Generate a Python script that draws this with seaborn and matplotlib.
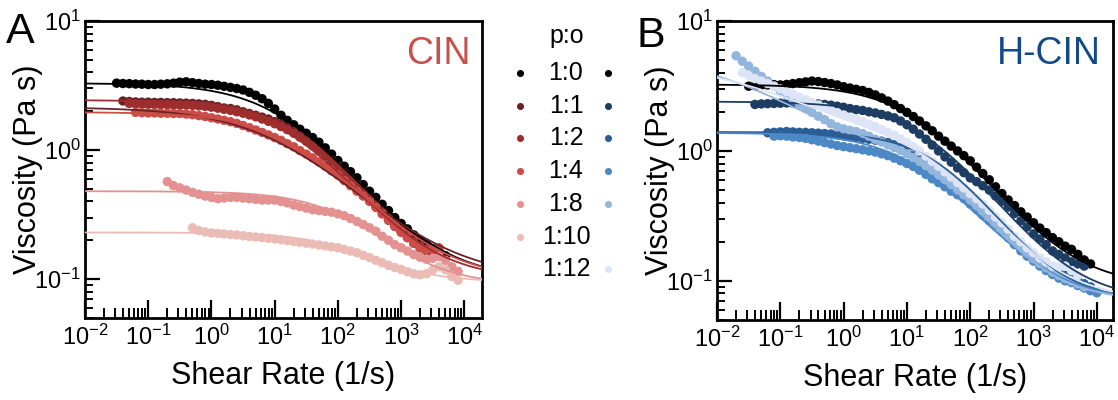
import numpy as np
import pandas as pd
import matplotlib
matplotlib.use("Agg")
import matplotlib.pyplot as plt
import seaborn as sns
from matplotlib.ticker import LogLocator, FuncFormatter, NullFormatter

# shear rate sweep, 10 points per decade
shear_rate = [0.01, 0.0126, 0.0158, 0.02, 0.0251, 0.0316, 0.0398, 0.0501, 0.0631, 0.0794,
              0.1, 0.126, 0.158, 0.2, 0.251, 0.316, 0.398, 0.501, 0.631, 0.794,
              1, 1.26, 1.58, 2, 2.51, 3.16, 3.98, 5.01, 6.31, 7.94,
              10, 12.6, 15.8, 20, 25.1, 31.6, 39.8, 50.1, 63.1, 79.4,
              100, 126, 158, 200, 251, 316, 398, 501, 631, 794,
              1000, 1259, 1585, 1995, 2512, 3162, 3981, 5012, 6310, 7943, 10000]

legend_ratios = ['1:0', '1:1', '1:2', '1:4', '1:8', '1:10', '1:12']
legend_red = ['#000000', '#6b2226', '#9e2d2d', '#cc4d47', '#e39191', '#ebbcb5', None]
legend_blue = ['#000000', '#1d3d63', '#2b5e97', '#4c88c6', '#93b6dc', None, '#dce4f5']

# ---- CIN (panel A) viscosity, Pa s ----
cin_ratios = ['1:0', '1:1', '1:2', '1:4', '1:8', '1:10']
cin_colors = ['#000000', '#6b2226', '#9e2d2d', '#cc4d47', '#e39191', '#ebbcb5']
cin_start = [5, 6, 7, 8, 13, 17]   # index of first shear rate
cin_1_0 = [3.30, 3.28, 3.27, 3.25, 3.24,
           3.22, 3.22, 3.24, 3.26, 3.30, 3.36, 3.38, 3.33, 3.28, 3.24,
           3.22, 3.18, 3.12, 3.06, 3.00, 2.92, 2.80, 2.66, 2.50, 2.30,
           2.08, 1.86, 1.70, 1.57, 1.45, 1.35, 1.25, 1.15, 1.04, 0.93,
           0.83, 0.75, 0.68, 0.61, 0.54, 0.48, 0.43, 0.38, 0.34, 0.30,
           0.27, 0.245, 0.22, 0.20, 0.185, 0.172, 0.16, 0.152]
cin_1_1 = [2.40, 2.38, 2.36, 2.35,
           2.35, 2.34, 2.34, 2.33, 2.33, 2.32, 2.31, 2.30, 2.28, 2.26,
           2.22, 2.17, 2.12, 2.10, 2.05, 1.98, 1.92, 1.86, 1.80, 1.74,
           1.66, 1.58, 1.49, 1.40, 1.30, 1.20, 1.10, 1.00, 0.91, 0.83,
           0.75, 0.67, 0.60, 0.54, 0.48, 0.43, 0.38, 0.34, 0.30, 0.265,
           0.235, 0.21, 0.19, 0.175, 0.165, 0.16]
cin_1_2 = [2.30, 2.28, 2.27,
           2.26, 2.26, 2.25, 2.25, 2.24, 2.24, 2.23, 2.22, 2.20, 2.18,
           2.15, 2.11, 2.07, 2.03, 1.98, 1.93, 1.87, 1.81, 1.74, 1.67,
           1.60, 1.52, 1.44, 1.35, 1.26, 1.17, 1.08, 0.99, 0.90, 0.82,
           0.74, 0.66, 0.59, 0.53, 0.47, 0.42, 0.37, 0.33, 0.29, 0.26,
           0.235, 0.215, 0.195, 0.18, 0.17, 0.165, 0.16]
cin_1_4 = [1.96, 1.95,
           1.94, 1.94, 1.93, 1.93, 1.92, 1.92, 1.90, 1.88, 1.85, 1.82,
           1.78, 1.74, 1.70, 1.66, 1.61, 1.55, 1.49, 1.43, 1.37, 1.31,
           1.25, 1.19, 1.12, 1.06, 0.99, 0.93, 0.87, 0.81, 0.75, 0.69,
           0.64, 0.58, 0.53, 0.48, 0.44, 0.40, 0.36, 0.32, 0.285, 0.255,
           0.23, 0.21, 0.19, 0.175, 0.168, 0.17, 0.175]
cin_1_8 = [0.57, 0.53, 0.51, 0.49, 0.47, 0.455, 0.44,
           0.43, 0.42, 0.425, 0.43, 0.43, 0.425, 0.42, 0.415, 0.41, 0.41,
           0.41, 0.40, 0.39, 0.375, 0.365, 0.355, 0.345, 0.34, 0.335, 0.33,
           0.32, 0.31, 0.295, 0.28, 0.265, 0.25, 0.235, 0.215, 0.20, 0.185,
           0.175, 0.165, 0.155, 0.148, 0.143, 0.145, 0.15, 0.14, 0.125, 0.115]
cin_1_10 = [0.25, 0.238, 0.232,
            0.228, 0.226, 0.224, 0.222, 0.22, 0.217, 0.214, 0.212, 0.21, 0.207,
            0.205, 0.202, 0.199, 0.196, 0.193, 0.19, 0.187, 0.184, 0.181, 0.178,
            0.175, 0.17, 0.165, 0.16, 0.153, 0.147, 0.14, 0.134, 0.128, 0.123,
            0.119, 0.114, 0.11, 0.108, 0.11, 0.118, 0.125, 0.118, 0.105, 0.098]
cin_data = [cin_1_0, cin_1_1, cin_1_2, cin_1_4, cin_1_8, cin_1_10]
# cross model fit: eta_inf, a1, lam1, m1, a2, lam2, m2
cin_fit = [(0.10, 3.20, 0.064, 0.68, 0, 1, 1),
           (0.10, 2.05, 0.080, 0.55, 0, 1, 1),
           (0.10, 2.34, 0.050, 0.70, 0, 1, 1),
           (0.10, 1.87, 0.040, 0.65, 0, 1, 1),
           (0.09, 0.39, 0.0062, 0.75, 0, 1, 1),
           (0.095, 0.135, 0.0057, 0.77, 0, 1, 1)]

# ---- H-CIN (panel B) ----
hcin_ratios = ['1:0', '1:1', '1:2', '1:4', '1:8', '1:12']
hcin_colors = ['#000000', '#1d3d63', '#2b5e97', '#4c88c6', '#93b6dc', '#dce4f5']
hcin_start = [5, 6, 8, 9, 3, 4]
hcin_1_0 = [3.15, 3.18, 3.20, 3.22, 3.24,
            3.22, 3.25, 3.30, 3.35, 3.40, 3.45, 3.42, 3.36, 3.30, 3.22,
            3.12, 3.05, 2.98, 2.92, 2.82, 2.70, 2.56, 2.42, 2.27, 2.12,
            1.98, 1.84, 1.70, 1.56, 1.43, 1.30, 1.19, 1.09, 1.00, 0.92,
            0.84, 0.75, 0.67, 0.60, 0.53, 0.47, 0.42, 0.38, 0.34, 0.31,
            0.28, 0.255, 0.235, 0.215, 0.20, 0.185, 0.175, 0.16, 0.145, 0.135]
hcin_1_1 = [2.28, 2.30, 2.31, 2.32,
            2.33, 2.34, 2.34, 2.33, 2.32, 2.31, 2.30, 2.28, 2.25, 2.21,
            2.17, 2.12, 2.08, 2.05, 2.00, 1.96, 1.91, 1.86, 1.80, 1.70,
            1.59, 1.47, 1.35, 1.23, 1.11, 1.00, 0.90, 0.82, 0.74, 0.68,
            0.62, 0.58, 0.54, 0.50, 0.45, 0.41, 0.37, 0.33, 0.29, 0.26,
            0.23, 0.21, 0.19, 0.17, 0.16, 0.15, 0.14, 0.135, 0.13]
hcin_1_2 = [1.38, 1.39,
            1.40, 1.41, 1.40, 1.39, 1.39, 1.38, 1.37, 1.36, 1.35, 1.33,
            1.31, 1.29, 1.27, 1.25, 1.23, 1.21, 1.19, 1.16, 1.12, 1.08,
            1.03, 0.98, 0.92, 0.86, 0.80, 0.73, 0.67, 0.61, 0.56, 0.51,
            0.46, 0.42, 0.38, 0.34, 0.30, 0.27, 0.24, 0.21, 0.19, 0.17,
            0.155, 0.14, 0.13, 0.12, 0.115, 0.11, 0.105, 0.10, 0.095, 0.09]
hcin_1_4 = [1.30,
            1.31, 1.30, 1.28, 1.27, 1.25, 1.22, 1.19, 1.16, 1.13, 1.10,
            1.08, 1.06, 1.04, 1.02, 1.00, 0.98, 0.95, 0.92, 0.88, 0.84,
            0.80, 0.76, 0.71, 0.66, 0.61, 0.57, 0.53, 0.49, 0.46, 0.43,
            0.39, 0.355, 0.32, 0.29, 0.265, 0.24, 0.215, 0.19, 0.17, 0.155,
            0.142, 0.13, 0.12, 0.112, 0.105, 0.10, 0.097, 0.092, 0.088, 0.084, 0.081]
hcin_1_8 = [5.4, 4.9, 4.5, 4.1, 3.75, 3.45, 3.15,
            2.9, 2.68, 2.48, 2.28, 2.12, 1.98, 1.85, 1.74, 1.62, 1.53,
            1.48, 1.44, 1.41, 1.36, 1.30, 1.23, 1.17, 1.11, 1.06, 1.01,
            0.95, 0.89, 0.83, 0.77, 0.71, 0.65, 0.60, 0.55, 0.50, 0.46,
            0.42, 0.38, 0.345, 0.31, 0.28, 0.25, 0.225, 0.20, 0.18, 0.163,
            0.148, 0.136, 0.126, 0.117, 0.11, 0.104, 0.10, 0.095, 0.09]
hcin_1_12 = [4.0, 3.8, 3.6, 3.45, 3.3, 3.15,
             3.0, 2.85, 2.72, 2.6, 2.48, 2.36, 2.26, 2.16, 2.06, 1.97,
             1.89, 1.82, 1.75, 1.68, 1.61, 1.54, 1.46, 1.39, 1.32, 1.24,
             1.16, 1.08, 1.0, 0.91, 0.83, 0.76, 0.69, 0.63, 0.57, 0.52,
             0.47, 0.43, 0.39, 0.35, 0.31, 0.28, 0.25, 0.22, 0.20, 0.18,
             0.165, 0.15, 0.14, 0.13, 0.128, 0.13, 0.12, 0.11]
hcin_data = [hcin_1_0, hcin_1_1, hcin_1_2, hcin_1_4, hcin_1_8, hcin_1_12]
hcin_fit = [(0.09, 3.16, 0.060, 0.70, 0, 1, 1),
            (0.07, 2.33, 0.045, 0.72, 0, 1, 1),
            (0.07, 1.33, 0.025, 0.80, 0, 1, 1),
            (0.07, 1.31, 0.060, 0.70, 0, 1, 1),
            (0.07, 4.00, 30.0, 0.60, 1.0, 0.03, 0.8),
            (0.07, 3.60, 20.0, 0.50, 1.1, 0.03, 0.8)]


def cross(x, p):
    eta_inf, a1, lam1, m1, a2, lam2, m2 = p
    return eta_inf + a1 / (1 + (lam1 * x) ** m1) + a2 / (1 + (lam2 * x) ** m2)


def to_frame(ratios, starts, data):
    rows = []
    for r, s, y in zip(ratios, starts, data):
        for x, v in zip(shear_rate[s:s + len(y)], y):
            rows.append((r, x, v))
    return pd.DataFrame(rows, columns=['ratio', 'rate', 'visc'])


sns.set_style('white')
plt.rcParams['font.family'] = ['Liberation Sans', 'DejaVu Sans']
plt.rcParams['mathtext.default'] = 'regular'
for k in ['text.color', 'axes.labelcolor', 'xtick.color', 'ytick.color', 'axes.edgecolor']:
    plt.rcParams[k] = 'black'

fig = plt.figure(figsize=(11.18, 4.0), dpi=100)
W, H = 1118, 400


def px_axes(l, t, r, b):
    return fig.add_axes([l / W, 1 - b / H, (r - l) / W, (b - t) / H])


def sci(v, pos):
    return r'$\mathregular{10^{%d}}$' % int(round(np.log10(v)))


def panel(ax, ratios, starts, data, fits, colors, xmax, name, ncolor):
    df = to_frame(ratios, starts, data)
    pal = dict(zip(ratios, colors))
    ax.set_xscale('log')
    ax.set_yscale('log')
    sns.scatterplot(data=df, x='rate', y='visc', hue='ratio', hue_order=ratios,
                    palette=pal, s=46, linewidth=0, alpha=1, legend=False, ax=ax, zorder=2)
    xf = np.logspace(-2, np.log10(xmax), 300)
    for r, p in zip(ratios, fits):
        ax.plot(xf, cross(xf, p), color=pal[r], lw=1.3, zorder=3)
    ax.set_xlim(0.01, xmax)
    ax.set_ylim(0.05, 10)
    ax.xaxis.set_major_locator(LogLocator(base=10, numticks=20))
    ax.xaxis.set_minor_locator(LogLocator(base=10, subs=np.arange(2, 10), numticks=100))
    ax.yaxis.set_major_locator(LogLocator(base=10, numticks=20))
    ax.yaxis.set_minor_locator(LogLocator(base=10, subs=np.arange(2, 10), numticks=100))
    ax.xaxis.set_major_formatter(FuncFormatter(sci))
    ax.yaxis.set_major_formatter(FuncFormatter(sci))
    ax.xaxis.set_minor_formatter(NullFormatter())
    ax.yaxis.set_minor_formatter(NullFormatter())
    ax.tick_params(axis='x', which='major', direction='in', length=13, width=1.6,
                   labelsize=17, pad=5, bottom=True, top=False)
    ax.tick_params(axis='x', which='minor', direction='in', length=7, width=1.4,
                   bottom=True, top=False)
    ax.tick_params(axis='y', which='major', direction='in', length=11, width=1.6,
                   labelsize=17, pad=3, left=True, right=False)
    ax.tick_params(axis='y', which='minor', direction='in', length=6, width=1.4,
                   left=True, right=False)
    for sp in ax.spines.values():
        sp.set_linewidth(2)
        sp.set_color('black')
    ax.set_xlabel('Shear Rate (1/s)', fontsize=22)
    ax.set_ylabel('Viscosity (Pa s)', fontsize=22)
    ax.xaxis.set_label_coords(0.5, -0.145)
    ax.yaxis.set_label_coords(-0.105, 0.5)
    ax.text(0.97, 0.855, name, transform=ax.transAxes, ha='right', va='baseline',
            fontsize=27, color=ncolor)


axA = px_axes(85, 21, 482, 318)
axB = px_axes(717, 21, 1113, 320)
panel(axA, cin_ratios, cin_start, cin_data, cin_fit, cin_colors, 1.9e4, 'CIN', '#c8504b')
panel(axB, hcin_ratios, hcin_start, hcin_data, hcin_fit, hcin_colors, 1.8e4, 'H-CIN', '#124a8a')

fig.text(6 / W, 1 - 43 / H, 'A', fontsize=31, ha='left', va='baseline')
fig.text(636 / W, 1 - 47 / H, 'B', fontsize=31, ha='left', va='baseline')

# legend in the gap between panels
leg = fig.add_axes([0, 0, 1, 1])
leg.set_xlim(0, W)
leg.set_ylim(H, 0)
leg.axis('off')
leg.patch.set_alpha(0)
leg.text(567, 36, 'p:o', fontsize=18, ha='center', va='center')
row_y = 73
for lab, cr, cb in zip(legend_ratios, legend_red, legend_blue):
    leg.text(566, row_y, lab, fontsize=18, ha='center', va='center')
    if cr is not None:
        leg.scatter([520], [row_y], s=26, color=cr, linewidth=0)
    if cb is not None:
        leg.scatter([608], [row_y], s=26, color=cb, linewidth=0)
    row_y += 32.7

fig.savefig('out.png', dpi=100)
